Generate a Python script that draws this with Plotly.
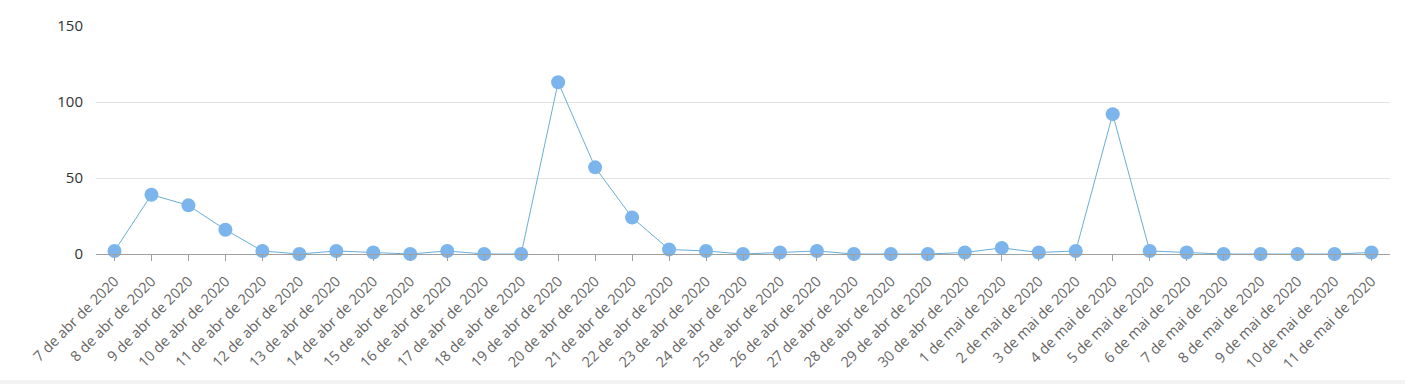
import plotly.graph_objects as go

categories = [
    "7 de abr de 2020", "8 de abr de 2020", "9 de abr de 2020", "10 de abr de 2020",
    "11 de abr de 2020", "12 de abr de 2020", "13 de abr de 2020", "14 de abr de 2020",
    "15 de abr de 2020", "16 de abr de 2020", "17 de abr de 2020", "18 de abr de 2020",
    "19 de abr de 2020", "20 de abr de 2020", "21 de abr de 2020", "22 de abr de 2020",
    "23 de abr de 2020", "24 de abr de 2020", "25 de abr de 2020", "26 de abr de 2020",
    "27 de abr de 2020", "28 de abr de 2020", "29 de abr de 2020", "30 de abr de 2020",
    "1 de mai de 2020", "2 de mai de 2020", "3 de mai de 2020", "4 de mai de 2020",
    "5 de mai de 2020", "6 de mai de 2020", "7 de mai de 2020", "8 de mai de 2020",
    "9 de mai de 2020", "10 de mai de 2020", "11 de mai de 2020",
]
values = [2, 39, 32, 16, 2, 0, 2, 1, 0, 2, 0, 0,
          113, 57, 24, 3, 2, 0, 1, 2, 0, 0, 0, 1,
          4, 1, 2, 92, 2, 1, 0, 0, 0, 0, 1]
y_ticks = [0, 50, 100, 150]

W, H = 1419, 384
ML, MR, MT, MB = 96, 29, 26, 130
ph = H - MT - MB
pw = W - ML - MR

fig = go.Figure()
fig.add_trace(go.Scatter(
    x=list(range(len(categories))), y=values,
    mode="lines+markers",
    line=dict(color="#6aaed6", width=1),
    marker=dict(color="#7cb5ec", size=14, line=dict(width=0)),
    cliponaxis=False,
    hoverinfo="x+y",
))

fig.update_layout(
    width=W, height=H,
    margin=dict(l=ML, r=MR, t=MT, b=MB, pad=0),
    paper_bgcolor="white", plot_bgcolor="white",
    showlegend=False,
    font=dict(family="Open Sans, Segoe UI, sans-serif", size=14, color="#666666"),
    xaxis=dict(
        tickmode="array",
        tickvals=list(range(len(categories))),
        ticktext=categories,
        range=[-0.5, len(categories) - 0.5],
        tickangle=-45,
        ticks="outside", ticklen=6, tickcolor="#a0a0a0", tickwidth=1,
        showline=True, linecolor="#a0a0a0", linewidth=1,
        showgrid=False, zeroline=False,
        ticklabelstandoff=6,
        tickfont=dict(size=14.5, color="#666666"),
    ),
    yaxis=dict(
        range=[0, 150],
        tickvals=y_ticks,
        showgrid=True, gridcolor="#e3e3e3", gridwidth=1,
        zeroline=False, showline=False,
        ticks="", ticklabelstandoff=12,
        tickfont=dict(size=15, color="#333333"),
    ),
    shapes=[dict(
        type="rect", xref="paper", yref="paper",
        x0=-ML / pw, x1=(1405 - ML) / pw,
        y0=(H - MB - 380) / ph, y1=(H - MB - 384) / ph,
        fillcolor="#f3f3f3", line=dict(width=0), layer="below",
    )],
)

fig.write_html("out.html")
